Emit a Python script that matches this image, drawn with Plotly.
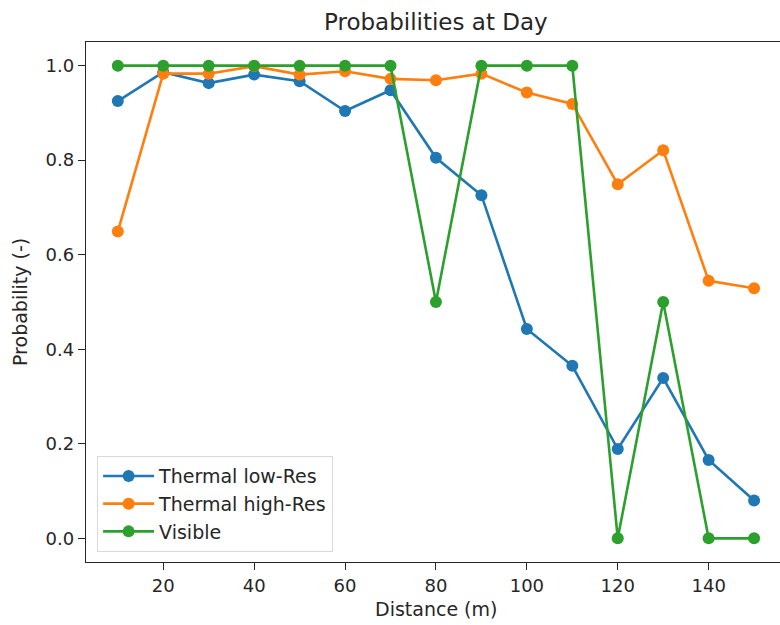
import plotly.graph_objects as go

# Detection probability versus distance, daytime
distance_m = [10, 20, 30, 40, 50, 60, 70, 80, 90, 100, 110, 120, 130, 140, 150]
thermal_low_res = [0.925, 0.986, 0.963, 0.981, 0.967, 0.904, 0.948, 0.805,
                   0.726, 0.443, 0.365, 0.189, 0.339, 0.166, 0.080]
thermal_high_res = [0.649, 0.983, 0.983, 0.999, 0.981, 0.988, 0.972, 0.969,
                    0.983, 0.943, 0.919, 0.749, 0.821, 0.545, 0.529]
visible = [1.0, 1.0, 1.0, 1.0, 1.0, 1.0, 1.0, 0.5,
           1.0, 1.0, 1.0, 0.0, 0.5, 0.0, 0.0]

series = [
    ("Thermal low-Res", thermal_low_res, "#1f77b4"),
    ("Thermal high-Res", thermal_high_res, "#ff7f0e"),
    ("Visible", visible, "#2ca02c"),
]

FONT = "DejaVu Sans"
INK = "#262626"
W, H = 780, 625
ML, MR, MT, MB = 86, 0, 42, 63

fig = go.Figure()
for name, vals, color in series:
    fig.add_trace(go.Scatter(
        x=distance_m, y=vals, name=name, mode="lines+markers",
        line=dict(color=color, width=2.6),
        marker=dict(color=color, size=12),
    ))

axis_common = dict(
    showgrid=False, zeroline=False,
    showline=True, linecolor=INK, linewidth=1.3,
    ticks="outside", ticklen=7, tickcolor=INK, tickwidth=1.2,
    tickfont=dict(family=FONT, size=18, color=INK),
)

fig.update_layout(
    width=W, height=H,
    margin=dict(l=ML, r=MR, t=MT, b=MB),
    paper_bgcolor="white", plot_bgcolor="white",
    font=dict(family=FONT, size=19, color=INK),
    showlegend=True,
    legend=dict(
        x=0.016, y=0.019, xanchor="left", yanchor="bottom",
        bgcolor="rgba(255,255,255,0.8)", bordercolor="#d9d9d9", borderwidth=1,
        font=dict(family=FONT, size=19, color=INK),
        itemwidth=51, tracegroupgap=0,
    ),
    xaxis=dict(range=[3, 155.7], tickvals=[20, 40, 60, 80, 100, 120, 140],
               mirror=True, **axis_common),
    yaxis=dict(range=[-0.05, 1.05], tickvals=[0, 0.2, 0.4, 0.6, 0.8, 1.0],
               ticktext=["0.0", "0.2", "0.4", "0.6", "0.8", "1.0"],
               mirror=False, **axis_common),
    annotations=[
        dict(text="Probabilities at Day", xref="paper", yref="paper",
             x=0.504, y=1, xanchor="center", yanchor="bottom", yshift=5,
             showarrow=False, font=dict(family=FONT, size=23, color=INK)),
        dict(text="Distance (m)", xref="paper", yref="paper",
             x=0.504, y=0, xanchor="center", yanchor="top", yshift=-34,
             showarrow=False, font=dict(family=FONT, size=19, color=INK)),
        dict(text="Probability (-)", xref="paper", yref="paper",
             x=0, y=0.5, xanchor="right", yanchor="middle", xshift=-53,
             textangle=-90, showarrow=False,
             font=dict(family=FONT, size=19, color=INK)),
    ],
)

fig.write_html("out.html")
